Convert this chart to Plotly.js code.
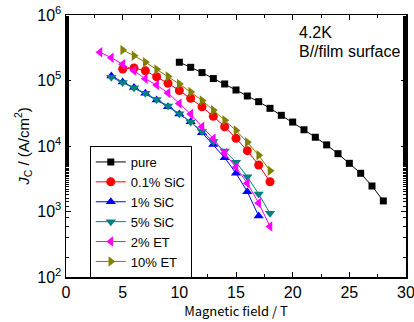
<!DOCTYPE html>
<html>
<head>
<meta charset="utf-8">
<script src="https://cdn.plot.ly/plotly-3.0.1.min.js"></script>
<style>html,body{margin:0;padding:0;background:#fff;}#chart{width:414px;height:322px;}</style>
</head>
<body>
<div id="chart"></div>
<script>
// Magnetic field (T) per series
const fieldPure = [10,11,12,13,14,15,16,17,18,19,20,21,22,23,24,25,26,27,28];
const jcPure = [1.90e5,1.59e5,1.32e5,1.07e5,8.85e4,7.16e4,5.80e4,4.75e4,3.76e4,2.94e4,2.32e4,1.77e4,1.36e4,1.04e4,7.63e3,5.44e3,3.83e3,2.45e3,1.45e3];

const fieldSiC01 = [5,6,7,8,9,10,11,12,13,14,15,16,17,18];
const jcSiC01 = [1.50e5,1.55e5,1.41e5,1.14e5,9.06e4,7.03e4,5.35e4,3.96e4,2.84e4,1.97e4,1.31e4,8.48e3,5.13e3,2.85e3];

const fieldSiC1 = [4,5,6,7,8,9,10,11,12,13,14,15,16,17];
const jcSiC1 = [1.17e5,9.49e4,7.82e4,6.38e4,5.04e4,3.98e4,3.08e4,2.35e4,1.60e4,1.05e4,6.63e3,3.83e3,2.01e3,8.5e2];

const fieldSiC5 = [4,5,6,7,8,9,10,11,12,13,14,15,16,17,18];
const jcSiC5 = [1.12e5,9.32e4,7.77e4,6.38e4,5.13e4,4.08e4,3.11e4,2.32e4,1.66e4,1.17e4,8.39e3,5.64e3,3.40e3,1.85e3,9.4e2];

const fieldET2 = [3,4,5,6,7,8,9,10,11,12,13,14,15,16,17,18];
const jcET2 = [2.70e5,2.23e5,1.77e5,1.41e5,1.06e5,8.54e4,6.44e4,4.45e4,3.08e4,1.97e4,1.29e4,7.74e3,4.73e3,2.70e3,1.35e3,5.9e2];

const fieldET10 = [5,6,7,8,9,10,11,12,13,14,15,16,17,18];
const jcET10 = [2.92e5,2.39e5,1.90e5,1.48e5,1.15e5,8.85e4,6.67e4,4.95e4,3.52e4,2.48e4,1.73e4,1.14e4,7.21e3,4.20e3];

const seriesNames = ["pure","0.1% SiC","1% SiC","5% SiC","2% ET","10% ET"];
const yTickVals = [1e2,1e3,1e4,1e5,1e6];
const yTickText = ["10<sup>2</sup>","10<sup>3</sup>","10<sup>4</sup>","10<sup>5</sup>","10<sup>6</sup>"];
const xTickVals = [0,5,10,15,20,25,30];

const FONT = "Liberation Sans, Arial, sans-serif";

function tr(x, y, name, color, symbol, size) {
  return {
    x: x, y: y, name: name, type: "scatter", mode: "lines+markers",
    line: {color: color, width: 1},
    marker: {color: color, symbol: symbol, size: size, line: {width: 0}},
    cliponaxis: false
  };
}

const data = [
  tr(fieldPure, jcPure, seriesNames[0], "#000000", "square", 7),
  tr(fieldSiC01, jcSiC01, seriesNames[1], "#ff0000", "circle", 9),
  tr(fieldSiC1, jcSiC1, seriesNames[2], "#0000ff", "triangle-up", 9),
  tr(fieldSiC5, jcSiC5, seriesNames[3], "#008080", "triangle-down", 9),
  tr(fieldET2, jcET2, seriesNames[4], "#ff00ff", "triangle-left", 9),
  tr(fieldET10, jcET10, seriesNames[5], "#808000", "triangle-right", 9)
];

const layout = {
  width: 414, height: 322,
  margin: {l: 66, r: 8, t: 15, b: 45},
  paper_bgcolor: "#fff", plot_bgcolor: "#fff",
  font: {family: FONT, size: 16, color: "#000"},
  showlegend: true,
  xaxis: {
    range: [0, 30], tickvals: xTickVals,
    ticks: "inside", ticklen: 5, tickwidth: 1, tickcolor: "#000",
    minor: {dtick: 2.5, ticks: "inside", ticklen: 3, tickcolor: "#000", showgrid: false},
    showline: true, linecolor: "#000", linewidth: 1.5, mirror: "ticks",
    showgrid: false, zeroline: false,
    ticklabeloverflow: "allow",
    tickfont: {family: FONT, size: 16},
    title: {text: "Magnetic field / T", font: {family: "Noto Sans CJK JP, sans-serif", size: 13}, standoff: 6}
  },
  yaxis: {
    type: "log", range: [2, 6],
    tickvals: yTickVals, ticktext: yTickText,
    ticks: "inside", ticklen: 5, tickwidth: 1, tickcolor: "#000",
    minor: {ticks: "inside", ticklen: 3, tickcolor: "#000", showgrid: false},
    showline: true, linecolor: "#000", linewidth: 1.5, mirror: "ticks",
    showgrid: false, zeroline: false,
    ticklabeloverflow: "allow",
    tickfont: {family: FONT, size: 16},
    title: {text: "<i>J</i><sub>C</sub> / (A/cm<sup>2</sup>)", font: {family: FONT, size: 15}, standoff: 4}
  },
  legend: {
    x: 0.07, y: 0.5, xanchor: "left", yanchor: "top",
    bgcolor: "#fff", bordercolor: "#000", borderwidth: 1,
    font: {family: FONT, size: 13}, tracegroupgap: 0, itemwidth: 30
  },
  annotations: [
    {text: "4.2K", xref: "paper", yref: "paper", x: 0.68, y: 0.935, xanchor: "left", yanchor: "middle", showarrow: false, font: {family: FONT, size: 16}},
    {text: "B//film surface", xref: "paper", yref: "paper", x: 0.68, y: 0.862, xanchor: "left", yanchor: "middle", showarrow: false, font: {family: FONT, size: 16}}
  ]
};

Plotly.newPlot("chart", data, layout, {staticPlot: true, displayModeBar: false});
</script>
</body>
</html>
